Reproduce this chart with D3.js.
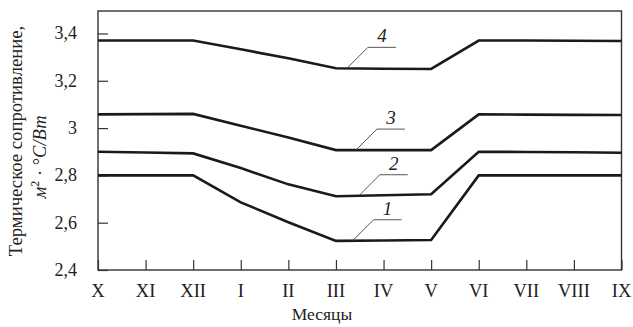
<!DOCTYPE html>
<html><head><meta charset="utf-8">
<script src="https://cdn.jsdelivr.net/npm/d3@7"></script>
<style>body{margin:0;background:#fff}svg{display:block}text{font-family:"Liberation Serif","DejaVu Serif",serif;fill:#222}</style>
</head><body><svg id="c" width="633" height="327"></svg>
<script>
const months = ["X","XI","XII","I","II","III","IV","V","VI","VII","VIII","IX"];
const yTicks = [2.4,2.6,2.8,3,3.2,3.4];
const yTickLabels = ["2,4","2,6","2,8","3","3,2","3,4"];
const series1 = [2.80,2.80,2.80,2.686,2.602,2.523,2.525,2.527,2.80,2.80,2.80,2.80];
const series2 = [2.90,2.897,2.893,2.831,2.762,2.712,2.716,2.72,2.90,2.899,2.898,2.896];
const series3 = [3.058,3.059,3.06,3.01,2.96,2.907,2.907,2.907,3.058,3.057,3.056,3.055];
const series4 = [3.37,3.37,3.37,3.333,3.295,3.253,3.251,3.25,3.37,3.37,3.369,3.368];
const seriesNames = ["1","2","3","4"];
const allSeries = [series1,series2,series3,series4];
const labelAt = [{i:5.35,name:"1"},{i:5.48,name:"2"},{i:5.42,name:"3"},{i:5.23,name:"4"}];

const svg = d3.select("#c");
const L=98, R=621.5, T=11, B=270;
const x = d3.scalePoint().domain(months).range([L,R]);
const y = d3.scaleLinear().domain([2.4,3.495]).range([B,T]);
const xi = d3.scaleLinear().domain([0,months.length-1]).range([L,R]);

svg.append("rect").attr("x",L).attr("y",T).attr("width",R-L).attr("height",B-T)
  .attr("fill","none").attr("stroke","#333").attr("stroke-width",1.4);

const ya = d3.axisRight(y).tickValues(yTicks).tickSize(10).tickFormat("");
svg.append("g").attr("transform",`translate(${L},0)`).call(ya)
  .call(g=>g.select(".domain").remove())
  .call(g=>g.selectAll("line").attr("stroke","#333").attr("stroke-width",1.2));
svg.append("g").selectAll("text").data(yTicks).join("text")
  .attr("x",L-21).attr("y",d=>y(d)+6).attr("text-anchor","end")
  .attr("font-size",18).text((d,i)=>yTickLabels[i]);

const xa = d3.axisTop(x).tickSize(10).tickFormat("");
svg.append("g").attr("transform",`translate(0,${B})`).call(xa)
  .call(g=>g.select(".domain").remove())
  .call(g=>g.selectAll("line").attr("stroke","#333").attr("stroke-width",1.2));
svg.append("g").selectAll("text").data(months).join("text")
  .attr("x",d=>x(d)).attr("y",297).attr("text-anchor","middle")
  .attr("font-size",18.5).text(d=>d);

const line = d3.line().x((d,i)=>x(months[i])).y(d=>y(d));
svg.append("g").selectAll("path").data(allSeries).join("path")
  .attr("d",line).attr("fill","none").attr("stroke","#1a1a1a")
  .attr("stroke-width",2.6).attr("stroke-linejoin","miter");

const valAt = (s,i)=>{const a=Math.floor(i),f=i-a;return s[a]+(s[Math.min(a+1,s.length-1)]-s[a])*f;};
labelAt.forEach((lb,k)=>{
  const s = allSeries[k];
  const px = xi(lb.i), py = y(valAt(s,lb.i));
  const qx = px+21, qy = py-21;
  svg.append("path").attr("d",`M${px},${py}L${qx},${qy}L${qx+28},${qy}`)
    .attr("fill","none").attr("stroke","#444").attr("stroke-width",0.9);
  svg.append("text").attr("x",qx+14).attr("y",qy-5).attr("text-anchor","middle")
    .attr("font-size",19).attr("font-style","italic").text(lb.name);
});

svg.append("text").attr("x",322).attr("y",320).attr("text-anchor","middle")
  .attr("font-size",17.5).text("Месяцы");
const yt = svg.append("g").attr("transform","translate(22,141) rotate(-90)");
yt.append("text").attr("text-anchor","middle").attr("font-size",18.7).text("Термическое сопротивление,");
const yt2 = svg.append("g").attr("transform","translate(46,157) rotate(-90)");
const t2 = yt2.append("text").attr("text-anchor","middle").attr("font-size",18.5).attr("font-style","italic");
t2.append("tspan").text("м");
t2.append("tspan").attr("dy",-7).attr("font-size",12).attr("font-style","normal").text("2");
t2.append("tspan").attr("dy",7).attr("font-style","normal").text(" · °");
t2.append("tspan").text("C/Вт");
</script></body></html>
